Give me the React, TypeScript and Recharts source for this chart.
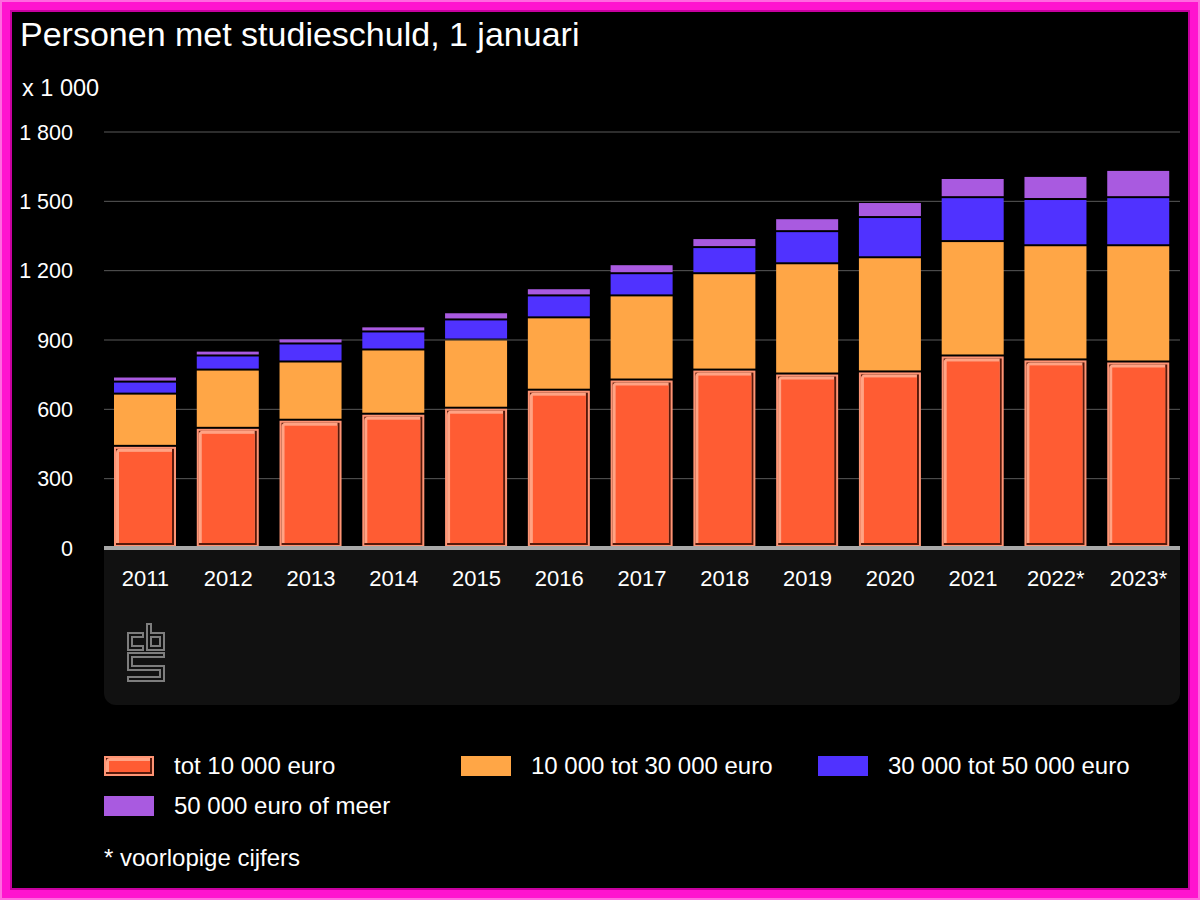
import React from 'react';
import { BarChart, Bar, XAxis, YAxis, CartesianGrid } from 'recharts';

const years = ['2011', '2012', '2013', '2014', '2015', '2016', '2017', '2018', '2019', '2020', '2021', '2022*', '2023*'];
const tot10k = [442, 520, 555, 581, 607, 685, 729, 772, 755, 764, 833, 816, 807];
const from10to30k = [226, 252, 252, 278, 295, 313, 364, 417, 477, 494, 495, 494, 503];
const from30to50k = [52, 61, 78, 78, 87, 95, 96, 113, 139, 174, 190, 200, 208];
const over50k = [22, 21, 22, 22, 31, 31, 39, 39, 56, 65, 83, 100, 118];
const yTicks = [0, 300, 600, 900, 1200, 1500, 1800];

const series = [
  { key: 'tot10k', name: 'tot 10 000 euro', color: '#ff5c33', bevel: true },
  { key: 'from10to30k', name: '10 000 tot 30 000 euro', color: '#ffa646', bevel: false },
  { key: 'from30to50k', name: '30 000 tot 50 000 euro', color: '#5032ff', bevel: false },
  { key: 'over50k', name: '50 000 euro of meer', color: '#a95ae0', bevel: false }
];

const data = years.map((year, i) => ({
  year,
  tot10k: tot10k[i],
  from10to30k: from10to30k[i],
  from30to50k: from30to50k[i],
  over50k: over50k[i]
}));

const FONT = "'Liberation Sans', Arial, Helvetica, sans-serif";

const fmt = (n: number) => String(n).replace(/\B(?=(\d{3})+(?!\d))/g, ' ');

// the red series has a raised / bevelled look
const Bevel = ({ x, y, w, h, color }: { x: number; y: number; w: number; h: number; color: string }) => {
  if (w <= 10 || h <= 10) return <rect x={x} y={y} width={w} height={h} fill={color} />;
  const r = 4;
  const hx = x + 2, hy = y + 2, hw = w - 6, hh = h - 6;
  const hl = `M${hx},${hy + r} Q${hx},${hy} ${hx + r},${hy} H${hx + hw} V${hy + hh} H${hx} Z`;
  return (
    <g>
      <rect x={x} y={y} width={w} height={h} fill="#ff9474" />
      <rect x={x + 2} y={y + 2} width={w - 4} height={h - 4} fill="#56190b" />
      <path d={hl} fill="#ffa384" />
      <rect x={x + 5} y={y + 5} width={w - 9} height={h - 9} fill={color} />
    </g>
  );
};

const Segment = (props: any) => {
  const { x, y, width, height, fill, bevel } = props;
  if (!height || height <= 0) return null;
  // 2px black gap between stacked parts
  const top = y + 1;
  const h = Math.max(height - 2, 0);
  if (bevel) return <Bevel x={x} y={top} w={width} h={h} color={fill} />;
  return <rect x={x} y={top} width={width} height={h} fill={fill} />;
};

const YearTick = ({ x, y, payload }: any) => (
  <text x={x} y={y + 30} textAnchor="middle" fill="#fff" fontSize={22} fontFamily={FONT}>
    {payload.value}
  </text>
);

const CbsLogo = () => (
  <svg width={40} height={60} style={{ position: 'absolute', left: 127, top: 623 }}>
    <g transform="translate(1,1)" fill="none" stroke="#7d7d7d" strokeWidth={2}>
      <path d="M15,9 H0 V26 H15 V22 H4 V13 H15 Z" />
      <path d="M19,0 H23 V9 H36 V26 H19 Z" />
      <path d="M23,13 H32 V22 H23 Z" />
      <path d="M0,29 H36 V33 H4 V42 H36 V57 H0 V53 H32 V46 H0 Z" />
    </g>
  </svg>
);

export default function App() {
  return (
    <div style={{ position: 'relative', width: 1200, height: 900, background: '#000', fontFamily: FONT, color: '#fff', overflow: 'hidden' }}>
      <style>{'body{margin:0}'}</style>

      <div style={{ position: 'absolute', left: 20, top: 14, fontSize: 34, lineHeight: '40px', whiteSpace: 'nowrap' }}>
        Personen met studieschuld, 1 januari
      </div>
      <div style={{ position: 'absolute', left: 22, top: 74, fontSize: 23.5, lineHeight: '28px' }}>x 1 000</div>

      <div style={{ position: 'absolute', left: 104, top: 548, width: 1076, height: 157, background: '#111', borderRadius: '0 0 12px 12px' }} />
      <CbsLogo />

      <div style={{ position: 'absolute', left: 0, top: 0 }}>
        <BarChart width={1200} height={710} data={data} margin={{ top: 132, right: 20, bottom: 0, left: 20 }} barSize={62}>
          <CartesianGrid vertical={false} stroke="#5a5a5a" strokeWidth={1} />
          <YAxis
            width={84}
            domain={[0, 1800]}
            ticks={yTicks}
            interval={0}
            tickFormatter={fmt}
            axisLine={false}
            tickLine={false}
            tickMargin={25}
            tick={{ fill: '#fff', fontSize: 21.5, fontFamily: FONT }}
          />
          <XAxis
            dataKey="year"
            height={162}
            interval={0}
            tickLine={false}
            axisLine={{ stroke: '#a8a8a8', strokeWidth: 4 }}
            tick={<YearTick />}
          />
          {series.map((s) => (
            <Bar
              key={s.key}
              dataKey={s.key}
              name={s.name}
              stackId="a"
              fill={s.color}
              isAnimationActive={false}
              shape={(p: any) => <Segment {...p} bevel={s.bevel} />}
            />
          ))}
        </BarChart>
      </div>

      <div style={{ position: 'absolute', left: 104, top: 756, width: 1076, display: 'flex', flexWrap: 'wrap', rowGap: 20 }}>
        {series.map((s) => (
          <div key={s.key} style={{ width: 357, height: 20, display: 'flex', alignItems: 'center' }}>
            <svg width={50} height={20} style={{ flex: 'none' }}>
              {s.bevel ? <Bevel x={0} y={0} w={50} h={20} color={s.color} /> : <rect width={50} height={20} fill={s.color} />}
            </svg>
            <span style={{ marginLeft: 20, fontSize: 24, whiteSpace: 'nowrap', lineHeight: '20px' }}>{s.name}</span>
          </div>
        ))}
      </div>
      <div style={{ position: 'absolute', left: 104, top: 844, fontSize: 24, lineHeight: '28px' }}>* voorlopige cijfers</div>

      <div style={{ position: 'absolute', inset: 0, border: '2px solid #ff6ae0', pointerEvents: 'none' }} />
      <div style={{ position: 'absolute', inset: 2, border: '8px solid #ff14cf', pointerEvents: 'none' }} />
      <div style={{ position: 'absolute', inset: 10, border: '2px solid #c8009f', pointerEvents: 'none' }} />
    </div>
  );
}
